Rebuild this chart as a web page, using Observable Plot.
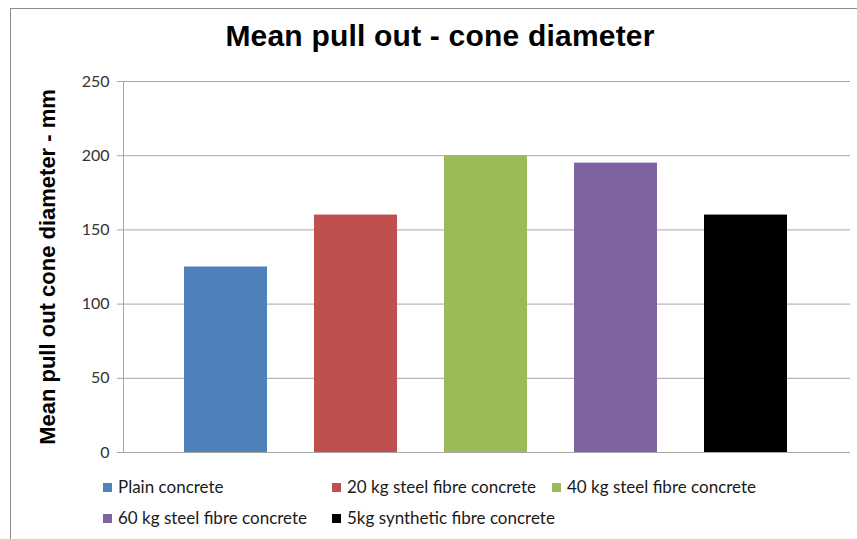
<!DOCTYPE html>
<html>
<head>
<meta charset="utf-8">
<script src="https://cdn.jsdelivr.net/npm/d3@7"></script>
<script src="https://cdn.jsdelivr.net/npm/@observablehq/plot@0.6"></script>
<style>
  html, body { margin: 0; padding: 0; background: #fff; }
  #chart { position: relative; width: 857px; height: 539px; overflow: hidden; font-family: "Open Sans", "Liberation Sans", sans-serif; }
  #frame { position: absolute; left: 10px; top: 8px; width: 900px; height: 600px; border-left: 1px solid #8c8c8c; border-top: 1px solid #8c8c8c; }
  #title { position: absolute; left: 0; top: 19px; width: 880px; text-align: center; font-family: "Liberation Sans", Arial, sans-serif; font-weight: bold; font-size: 30px; color: #000; letter-spacing: 0.2px; }
  #chart svg { position: absolute; left: 0; top: 0; }
  .leg { position: absolute; font-family: "Lato", "Open Sans", sans-serif; font-size: 17px; color: #1a1a1a; white-space: nowrap; line-height: 18px; }
  .leg i { position: absolute; left: -15px; top: 5px; width: 9px; height: 9px; }
</style>
</head>
<body>
<div id="chart">
  <div id="frame"></div>
  <div id="title">Mean pull out - cone diameter</div>
</div>
<script>
// Mean pull-out cone diameter per concrete mix (mm)
const mixes = [
  "Plain concrete",
  "20 kg steel fibre concrete",
  "40 kg steel fibre concrete",
  "60 kg steel fibre concrete",
  "5kg synthetic fibre concrete"
];
const diameters = [125, 160, 200, 195, 160];
const colors = ["#4F81BD", "#C0504D", "#9BBB59", "#8064A2", "#000000"];
const yTicks = [0, 50, 100, 150, 200, 250];

const data = mixes.map((m, i) => ({mix: m, value: diameters[i]}));

const W = 857, H = 539;
const mLeft = 123, mRight = 7, mTop = 81, mBottom = 87;

const plot = Plot.plot({
  width: W,
  height: H,
  marginLeft: mLeft,
  marginRight: mRight,
  marginTop: mTop,
  marginBottom: mBottom,
  style: {background: "transparent", fontFamily: "Lato, 'Open Sans', sans-serif"},
  x: {domain: mixes, range: [161, 811], paddingInner: 0.36, paddingOuter: 0.18, axis: null},
  y: {domain: [0, 250], ticks: yTicks, label: null},
  color: {domain: mixes, range: colors},
  marks: [
    Plot.gridY(yTicks.filter(d => d > 0), {stroke: "#a6a6a6", strokeOpacity: 1, strokeWidth: 1}),
    Plot.barY(data, {x: "mix", y: "value", fill: "mix"}),
    Plot.ruleY([0], {stroke: "#a6a6a6", strokeWidth: 1}),
    Plot.axisY({
      ticks: yTicks,
      tickSize: 6,
      tickPadding: 8,
      stroke: "#a6a6a6",
      fontSize: 16,
      fill: "#333",
      label: "Mean pull out cone diameter - mm",
      labelAnchor: "center",
      labelArrow: "none",
      labelOffset: 84
    })
  ]
});

// vertical axis line at the left edge of the frame
const svg = d3.select(plot);
svg.append("line")
  .attr("x1", mLeft + 0.5).attr("x2", mLeft + 0.5)
  .attr("y1", mTop).attr("y2", H - mBottom)
  .attr("stroke", "#a6a6a6");

// style the y-axis title: bold, larger
svg.selectAll("g[aria-label='y-axis label'] text")
  .attr("font-size", 22)
  .attr("font-weight", "bold")
  .attr("fill", "#000")
  .attr("font-family", "'Liberation Sans', Arial, sans-serif");

document.getElementById("chart").appendChild(plot);

// legend below the plot, two rows
const legPos = [[118, 478], [347, 478], [567, 478], [118, 509], [347, 509]];
const chart = document.getElementById("chart");
mixes.forEach((m, i) => {
  const d = document.createElement("div");
  d.className = "leg";
  d.style.left = legPos[i][0] + "px";
  d.style.top = legPos[i][1] + "px";
  d.innerHTML = `<i style="background:${colors[i]}"></i>`;
  d.appendChild(document.createTextNode(m));
  chart.appendChild(d);
});
</script>
</body>
</html>
